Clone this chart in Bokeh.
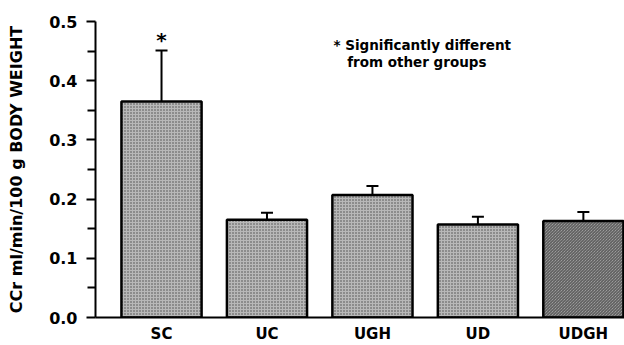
from bokeh.plotting import figure
from bokeh.models import ColumnDataSource, Whisker, TeeHead, Label, FixedTicker, Range1d
from bokeh.embed import file_html
from bokeh.resources import INLINE

groups = ["SC", "UC", "UGH", "UD", "UDGH"]
means = [0.365, 0.165, 0.207, 0.157, 0.163]
upper = [0.451, 0.177, 0.222, 0.170, 0.178]
patterns = [".", ".", ".", ".", "\\"]
xpos = [0, 1, 2, 3, 4]

src = ColumnDataSource(dict(x=xpos, top=means, upper=upper, pat=patterns))

p = figure(width=624, height=345, output_backend="svg", toolbar_location=None,
           x_range=Range1d(-0.626, 4.39), y_range=Range1d(0, 0.5),
           min_border_left=95, min_border_right=0, min_border_top=21, min_border_bottom=0)
p.outline_line_color = None
p.grid.grid_line_color = None
p.background_fill_color = "white"

p.vbar(x="x", top="top", width=0.76, bottom=0, source=src,
       fill_color="#b8b8b8", line_color="black", line_width=2.5,
       hatch_pattern="pat", hatch_color="black", hatch_alpha=0.6, hatch_scale=3, hatch_weight=1)

w = Whisker(base="x", lower="top", upper="upper", source=src, dimension="height",
            line_color="black", line_width=2, lower_head=None,
            upper_head=TeeHead(size=12, line_color="black", line_width=2))
p.add_layout(w)

font = "DejaVu Sans"
# y axis
p.yaxis.ticker = FixedTicker(ticks=[0.0, 0.1, 0.2, 0.3, 0.4, 0.5],
                             minor_ticks=[0.05, 0.15, 0.25, 0.35, 0.45])
p.yaxis.major_label_overrides = {0.0: "0.0", 0.1: "0.1", 0.2: "0.2", 0.3: "0.3", 0.4: "0.4", 0.5: "0.5"}
p.yaxis.axis_line_width = 2
p.yaxis.major_tick_line_width = 2
p.yaxis.minor_tick_line_width = 2
p.yaxis.major_tick_out = 9
p.yaxis.major_tick_in = 0
p.yaxis.minor_tick_out = 8
p.yaxis.minor_tick_in = 0
p.yaxis.major_label_text_font = font
p.yaxis.major_label_text_font_size = "16px"
p.yaxis.major_label_text_font_style = "bold"
p.yaxis.major_label_text_color = "black"
p.yaxis.major_label_standoff = 9
p.yaxis.axis_label = "CCr ml/min/100 g BODY WEIGHT"
p.yaxis.axis_label_text_font = font
p.yaxis.axis_label_text_font_size = "16px"
p.yaxis.axis_label_text_font_style = "bold"
p.yaxis.axis_label_text_color = "black"
p.yaxis.axis_label_standoff = 20

# x axis
p.xaxis.ticker = FixedTicker(ticks=xpos)
p.xaxis.major_label_overrides = {i: g for i, g in zip(xpos, groups)}
p.xaxis.axis_line_width = 2
p.xaxis.major_tick_line_color = None
p.xaxis.minor_tick_line_color = None
p.xaxis.major_label_text_font = font
p.xaxis.major_label_text_font_size = "15px"
p.xaxis.major_label_text_font_style = "bold"
p.xaxis.major_label_text_color = "black"
p.xaxis.major_label_standoff = 1

p.add_layout(Label(x=0, y=0.468, text="*", text_font=font, text_font_size="20px",
                   text_font_style="bold", text_color="black",
                   text_align="center", text_baseline="middle"))
p.add_layout(Label(x=1.63, y=0.461, text="* Significantly different", text_font=font,
                   text_font_size="13.5px", text_font_style="bold", text_color="black",
                   text_baseline="middle"))
p.add_layout(Label(x=1.76, y=0.431, text="from other groups", text_font=font,
                   text_font_size="13.5px", text_font_style="bold", text_color="black",
                   text_baseline="middle"))

open("out.html", "w").write(file_html(p, INLINE))
